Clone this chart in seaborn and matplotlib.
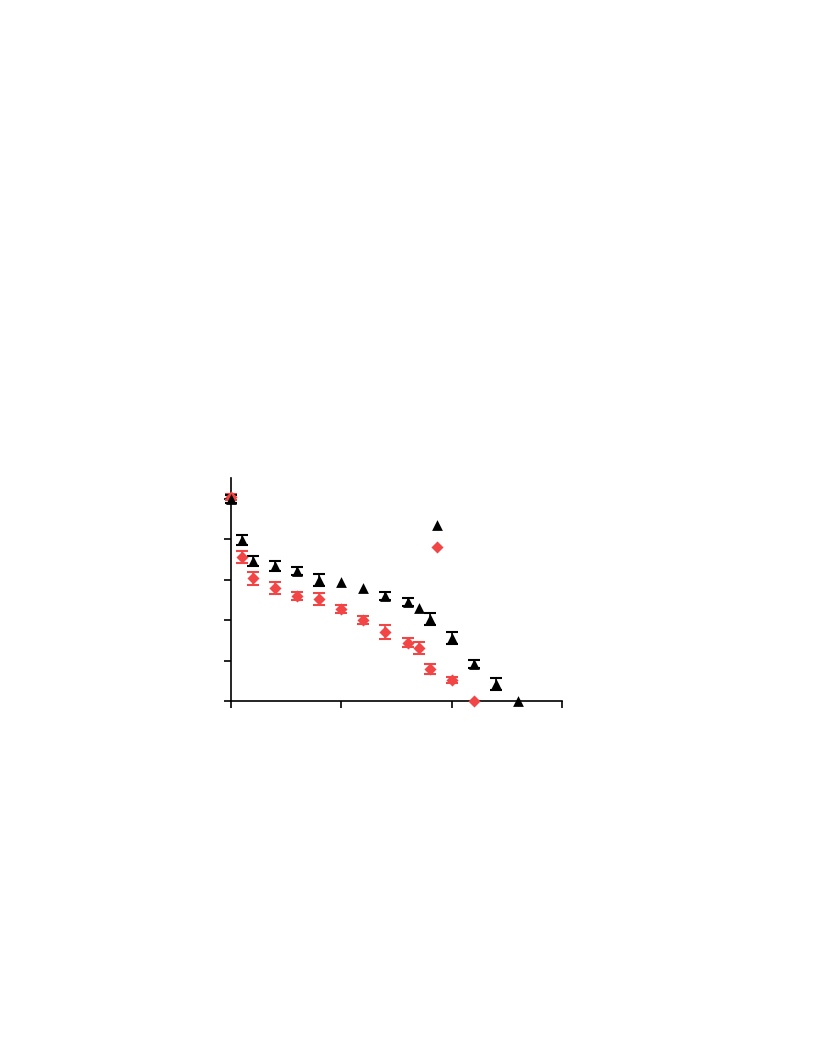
import numpy as np
import pandas as pd
import matplotlib
matplotlib.use("Agg")
import matplotlib.pyplot as plt
import seaborn as sns

# black triangle series
black_x = [0.0, 0.1, 0.2, 0.4, 0.6, 0.8, 1.0, 1.2, 1.4, 1.6, 1.7, 1.8, 2.0, 2.2, 2.4, 2.6]
black_y = [5.0, 3.99, 3.47, 3.34, 3.22, 3.0, 2.95, 2.80, 2.6, 2.45, 2.30, 2.03, 1.56, 0.92, 0.42, 0.0]
black_err = [0.11, 0.13, 0.13, 0.13, 0.1, 0.15, 0.0, 0.0, 0.1, 0.11, 0.0, 0.14, 0.14, 0.1, 0.14, 0.0]

# red diamond series
red_x = [0.0, 0.1, 0.2, 0.4, 0.6, 0.8, 1.0, 1.2, 1.4, 1.6, 1.7, 1.8, 2.0, 2.2]
red_y = [5.05, 3.56, 3.04, 2.80, 2.6, 2.52, 2.28, 2.0, 1.71, 1.44, 1.31, 0.79, 0.52, 0.0]
red_err = [0.08, 0.15, 0.16, 0.15, 0.1, 0.15, 0.1, 0.1, 0.17, 0.11, 0.15, 0.13, 0.07, 0.0]

# isolated points
iso_x = [1.87]
iso_black_y = [4.36]
iso_red_y = [3.81]

RED = "#f24646"

black_df = pd.DataFrame({"x": black_x + iso_x, "y": black_y + iso_black_y})
red_df = pd.DataFrame({"x": red_x + iso_x, "y": red_y + iso_red_y})


def draw_errors(ax, xs, ys, errs, color):
    # only points that actually have an error bar
    keep = [i for i, e in enumerate(errs) if e > 0]
    ax.errorbar([xs[i] for i in keep], [ys[i] for i in keep],
                yerr=[errs[i] for i in keep], fmt="none", ecolor=color,
                elinewidth=1.2, capsize=4, capthick=1.5, clip_on=False)


sns.set_style("ticks")
fig = plt.figure(figsize=(8.16, 10.56), dpi=100)
ax = fig.add_axes([0.2831, 0.3362, 0.4056, 0.2112])

draw_errors(ax, red_x, red_y, red_err, RED)
draw_errors(ax, black_x, black_y, black_err, "black")

sns.scatterplot(data=red_df, x="x", y="y", marker="D", s=38, color=RED,
                edgecolor=RED, linewidth=0, ax=ax, clip_on=False, zorder=3)
sns.scatterplot(data=black_df, x="x", y="y", marker="^", s=60, color="black",
                edgecolor="black", linewidth=0, ax=ax, clip_on=False, zorder=4)

ax.set_xlim(0, 3)
ax.set_ylim(0, 5.52)
ax.set_xticks([0, 1, 2, 3])
ax.set_yticks([0, 1, 2, 3, 4, 5])
ax.set_xticklabels([])
ax.set_yticklabels([])
ax.set_xlabel("")
ax.set_ylabel("")
ax.tick_params(direction="out", length=5, width=1.2, color="black")
for side in ["left", "bottom"]:
    ax.spines[side].set_linewidth(1.2)
    ax.spines[side].set_color("black")
sns.despine(ax=ax)

fig.savefig("out.png", dpi=100)
